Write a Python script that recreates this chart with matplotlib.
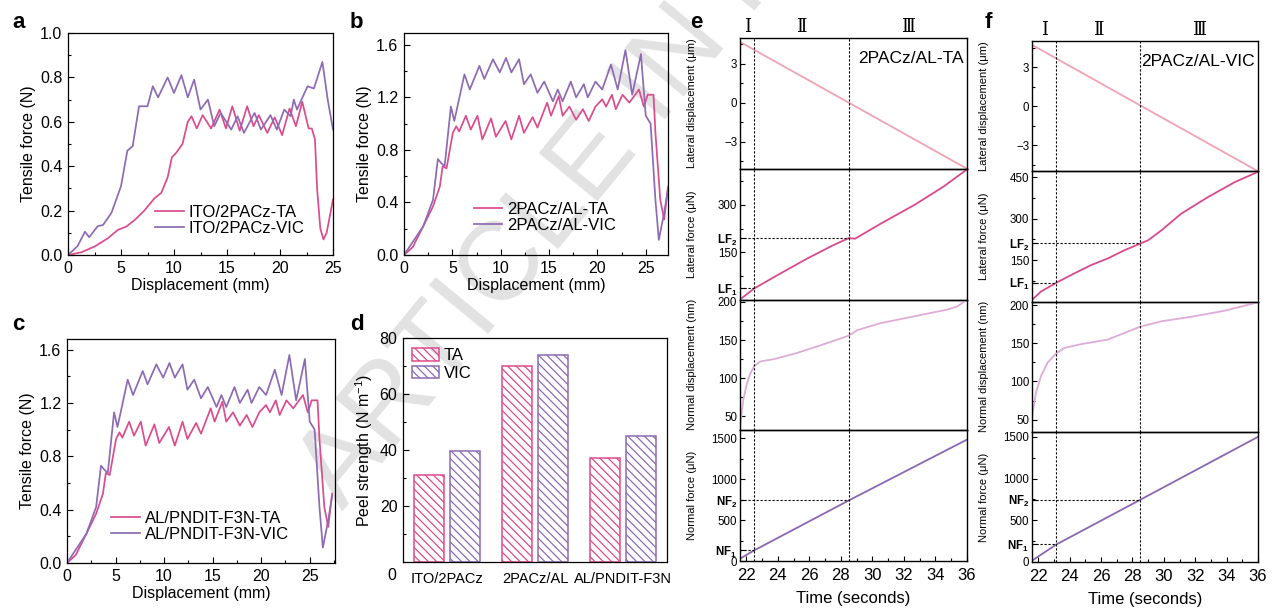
import numpy as np
import matplotlib.pyplot as plt
from matplotlib.ticker import MultipleLocator
from matplotlib.transforms import blended_transform_factory

plt.rcParams['font.family'] = ['Liberation Sans', 'DejaVu Sans']
plt.rcParams['mathtext.fontset'] = 'custom'
plt.rcParams['mathtext.rm'] = 'Liberation Sans'
plt.rcParams['mathtext.it'] = 'Liberation Sans:italic'
plt.rcParams['mathtext.bf'] = 'Liberation Sans:bold'
plt.rcParams['hatch.linewidth'] = 0.9
plt.rcParams['xtick.direction'] = 'in'
plt.rcParams['ytick.direction'] = 'in'
plt.rcParams['axes.linewidth'] = 0.9

TA_COLOR = '#dc4b8c'
VIC_COLOR = '#8c6bb4'

# ---- a: ITO/2PACz peel curves ----
a_ta_x = [0, 1.25, 2.5, 3.75, 4.7, 5.5, 6.3, 7.2, 8.15, 8.8, 9.4, 9.8, 10.2, 10.8, 11.3, 11.65,
          12.15, 12.7, 13.5, 14.3, 14.9, 15.5, 16.2, 16.9, 17.5, 18.0, 18.8, 19.5, 20.2, 20.9,
          21.5, 22.1, 22.7, 23.0, 23.3, 23.5, 23.8, 24.1, 24.4, 25.0]
a_ta_y = [0, 0.012, 0.038, 0.075, 0.113, 0.128, 0.158, 0.20, 0.255, 0.28, 0.35, 0.44, 0.46, 0.50,
          0.60, 0.625, 0.57, 0.63, 0.57, 0.655, 0.57, 0.67, 0.56, 0.67, 0.58, 0.63, 0.55, 0.62,
          0.54, 0.66, 0.58, 0.69, 0.57, 0.57, 0.52, 0.30, 0.12, 0.07, 0.10, 0.25]
a_vic_x = [0, 0.9, 1.6, 2.0, 2.8, 3.3, 4.1, 5.0, 5.6, 6.1, 6.7, 7.5, 8.0, 8.5, 9.4, 10.0, 10.7,
           11.3, 11.9, 12.5, 13.2, 13.8, 14.4, 15.4, 16.0, 16.6, 17.6, 18.2, 19.1, 19.7, 20.4,
           21.0, 21.3, 21.6, 22.6, 23.2, 24.0, 24.5, 25.0]
a_vic_y = [0, 0.04, 0.105, 0.08, 0.13, 0.135, 0.19, 0.31, 0.47, 0.49, 0.67, 0.67, 0.76, 0.71,
           0.80, 0.73, 0.81, 0.71, 0.79, 0.655, 0.70, 0.58, 0.64, 0.565, 0.625, 0.55, 0.64,
           0.565, 0.63, 0.565, 0.655, 0.625, 0.70, 0.655, 0.76, 0.75, 0.87, 0.70, 0.565]

# ---- b / c: 2PACz/AL and AL/PNDIT-F3N peel curves ----
b_ta_x = [0, 0.9, 2.0, 3.0, 3.7, 4.0, 4.4, 5.05, 5.4, 5.7, 6.4, 6.9, 7.6, 8.1, 9.0, 9.5, 10.5,
          11.1, 11.9, 12.4, 13.3, 13.8, 14.8, 15.2, 16.0, 16.4, 17.1, 17.8, 18.5, 19.1, 19.8,
          20.5, 20.9, 21.5, 21.9, 22.6, 23.3, 24.3, 24.8, 25.2, 25.8, 26.0, 26.5, 26.9, 27.3]
b_ta_y = [0, 0.06, 0.22, 0.37, 0.52, 0.675, 0.66, 0.93, 0.98, 0.94, 1.06, 0.955, 1.06, 0.88,
          1.04, 0.90, 1.02, 0.88, 1.06, 0.93, 1.05, 0.97, 1.16, 1.06, 1.21, 1.06, 1.13, 1.03,
          1.11, 1.02, 1.13, 1.185, 1.13, 1.22, 1.11, 1.22, 1.16, 1.26, 1.13, 1.22, 1.22, 0.93,
          0.42, 0.27, 0.52]
b_vic_x = [0, 2.0, 3.0, 3.5, 3.85, 4.2, 4.85, 5.2, 6.25, 6.8, 7.8, 8.3, 9.2, 9.9, 10.55, 11.1,
           11.9, 12.4, 13.1, 13.8, 14.5, 15.4, 15.9, 16.4, 17.25, 17.8, 18.6, 19.0, 19.8, 20.5,
           21.4, 22.1, 22.9, 23.6, 24.5, 25.0, 25.5, 26.0, 26.35, 26.9, 27.3]
b_vic_y = [0, 0.22, 0.42, 0.73, 0.70, 0.675, 1.13, 1.02, 1.375, 1.26, 1.44, 1.34, 1.49, 1.39,
           1.50, 1.39, 1.49, 1.30, 1.375, 1.235, 1.32, 1.17, 1.26, 1.17, 1.32, 1.20, 1.30, 1.20,
           1.32, 1.26, 1.45, 1.26, 1.56, 1.22, 1.53, 1.06, 1.00, 0.42, 0.115, 0.32, 0.50]
c_ta_x, c_ta_y = b_ta_x, b_ta_y
c_vic_x, c_vic_y = b_vic_x, b_vic_y

# ---- d: peel strength ----
d_categories = ['ITO/2PACz', '2PACz/AL', 'AL/PNDIT-F3N']
d_ta = [31, 70, 37]
d_vic = [39.5, 74, 45]

# ---- e: 2PACz/AL-TA scratch ----
e_ld_t = [21.6, 36.0]
e_ld = [4.7, -5.1]
e_lf_t = [21.6, 22.5, 24.0, 25.9, 27.5, 28.5, 28.9, 30.5, 32.66, 34.5, 36.0]
e_lf = [0, 35, 78, 131, 172, 195, 193, 240, 300, 358, 413]
e_nd_t = [21.6, 21.8, 22.04, 22.25, 22.5, 22.9, 23.75, 25.2, 26.7, 28.4, 28.6, 29.05, 30.5,
          32.65, 34.8, 35.4, 36.0]
e_nd = [36, 71, 93, 106, 116, 122, 125, 133, 143, 155, 157, 163, 172, 181, 190, 194, 203]
e_nf_t = [21.6, 22.5, 28.5, 36.0]
e_nf = [28, 130, 740, 1484]
e_t1, e_t2 = 22.5, 28.5
e_lf1, e_lf2 = 35, 195
e_nf1, e_nf2 = 130, 740

# ---- f: 2PACz/AL-VIC scratch ----
f_ld_t = [21.6, 36.0]
f_ld = [4.7, -5.0]
f_lf_t = [21.6, 22.17, 23.15, 24.3, 25.37, 26.43, 27.5, 28.5, 29.0, 29.85, 31.1, 32.8, 34.5, 36.0]
f_lf = [6, 36, 68, 102, 132, 156, 186, 210, 222, 258, 318, 378, 432, 470]
f_nd_t = [21.6, 21.64, 21.85, 22.17, 22.6, 23.15, 23.66, 24.73, 26.43, 28.5, 29.85, 31.77,
          33.9, 36.0]
f_nd = [45.6, 58.7, 85, 107, 125, 137, 144, 149, 155, 172, 179, 185, 193, 204]
f_nf_t = [21.6, 23.15, 28.5, 36.0]
f_nf = [16, 210, 746, 1500]
f_t1, f_t2 = 23.15, 28.5
f_lf1, f_lf2 = 68, 212
f_nf1, f_nf2 = 210, 746

W, H = 1275, 609
fig = plt.figure(figsize=(W / 100, H / 100), dpi=100)


def px_axes(left, top, right, bottom):
    ax = fig.add_axes([left / W, 1 - bottom / H, (right - left) / W, (bottom - top) / H])
    ax.set_facecolor('none')
    return ax


def tensile(ax, xt, yt, xv, yv, labels, xmax, ymax, ystep, anchor):
    ax.plot(xt, yt, color=TA_COLOR, lw=1.25, label=labels[0], solid_joinstyle='round')
    ax.plot(xv, yv, color=VIC_COLOR, lw=1.25, label=labels[1], solid_joinstyle='round')
    ax.set_xlim(0, xmax)
    ax.set_ylim(0, ymax)
    ax.xaxis.set_major_locator(MultipleLocator(5))
    ax.xaxis.set_minor_locator(MultipleLocator(2.5))
    ax.yaxis.set_major_locator(MultipleLocator(ystep))
    ax.yaxis.set_minor_locator(MultipleLocator(ystep / 2))
    ax.tick_params(which='major', length=4, width=0.8, labelsize=11.5, pad=4)
    ax.tick_params(which='minor', length=2.2, width=0.8)
    ax.set_xlabel('Displacement (mm)', fontsize=11.5, labelpad=2)
    ax.set_ylabel('Tensile force (N)', fontsize=11.5, labelpad=3)
    ax.legend(loc='lower left', bbox_to_anchor=anchor, frameon=False, fontsize=12,
              handlelength=1.7, handletextpad=0.3, labelspacing=0.05, borderpad=0,
              borderaxespad=0)


ax_a = px_axes(68, 33, 333, 255)
tensile(ax_a, a_ta_x, a_ta_y, a_vic_x, a_vic_y, ['ITO/2PACz-TA', 'ITO/2PACz-VIC'],
        25, 1.0, 0.2, (0.33, 0.085))
ax_b = px_axes(404, 33, 668, 255)
tensile(ax_b, b_ta_x, b_ta_y, b_vic_x, b_vic_y, ['2PACz/AL-TA', '2PACz/AL-VIC'],
        27.3, 1.69, 0.4, (0.265, 0.1))
ax_c = px_axes(67, 339, 335, 563)
tensile(ax_c, c_ta_x, c_ta_y, c_vic_x, c_vic_y, ['AL/PNDIT-F3N-TA', 'AL/PNDIT-F3N-VIC'],
        27.6, 1.68, 0.4, (0.165, 0.095))

# ---- d ----
ax_d = px_axes(403, 338, 667, 562)
xpos = np.arange(len(d_categories))
ax_d.bar(xpos - 0.2, d_ta, 0.34, facecolor='none', edgecolor=TA_COLOR, hatch='\\\\\\\\',
         lw=1.1, label='TA')
ax_d.bar(xpos + 0.2, d_vic, 0.34, facecolor='none', edgecolor=VIC_COLOR, hatch='\\\\\\\\',
         lw=1.1, label='VIC')
ax_d.set_xlim(-0.5, 2.5)
ax_d.set_ylim(0, 80)
ax_d.set_xticks(xpos, d_categories)
ax_d.set_yticks([20, 40, 60, 80])
ax_d.yaxis.set_minor_locator(MultipleLocator(10))
ax_d.tick_params(axis='x', length=0, labelsize=10.5, pad=7)
ax_d.tick_params(axis='y', which='major', length=4, width=0.8, labelsize=11.5, pad=4)
ax_d.tick_params(axis='y', which='minor', length=2.2, width=0.8)
ax_d.text(-0.042, -0.0625, '0', transform=ax_d.transAxes, ha='center', va='center',
          fontsize=11.5)
ax_d.set_ylabel('Peel strength (N m$^{-1}$)', fontsize=11.5, labelpad=3)
ax_d.legend(loc='upper left', bbox_to_anchor=(0.035, 0.955), frameon=False, fontsize=12,
            handlelength=1.6, handleheight=0.8, handletextpad=0.3, labelspacing=0.15,
            borderpad=0, borderaxespad=0)


# ---- e / f ----
def scratch(left, top, right, bottom, d, title):
    h = (bottom - top) / 4
    axs = [px_axes(left, top + i * h, right, top + (i + 1) * h) for i in range(4)]
    x0, x1 = 21.6, 36.0
    a1, a2, a3, a4 = axs
    a1.plot(d['ld_t'], d['ld'], color='#f0a3b4', lw=1.3)
    a2.plot(d['lf_t'], d['lf'], color='#d94a8c', lw=1.3)
    a3.plot(d['nd_t'], d['nd'], color='#ddacd9', lw=1.3)
    a4.plot(d['nf_t'], d['nf'], color='#8a67b1', lw=1.3)
    dot = dict(color='k', lw=0.8, ls=(0, (2, 1.6)))
    for ax in axs:
        ax.set_xlim(x0, x1)
        ax.axvline(d['t1'], **dot)
        ax.axvline(d['t2'], **dot)
        ax.spines[:].set_linewidth(1.0)
        ax.tick_params(axis='y', which='major', length=3.5, width=0.8, labelsize=8.3, pad=2)
        ax.tick_params(axis='y', which='minor', length=2, width=0.8)
        ax.yaxis.set_label_coords(-0.19, 0.5)
    for ax in axs[:3]:
        ax.tick_params(axis='x', which='both', length=0, labelbottom=False)
    a2.plot([x0, d['t1']], [d['lf1'], d['lf1']], **dot)
    a2.plot([x0, d['t2']], [d['lf2'], d['lf2']], **dot)
    a4.plot([x0, d['t1']], [d['nf1'], d['nf1']], **dot)
    a4.plot([x0, d['t2']], [d['nf2'], d['nf2']], **dot)

    a1.set_ylim(*d['ld_lim'])
    a1.set_yticks([-3, 0, 3])
    a1.yaxis.set_minor_locator(MultipleLocator(1.5))
    a1.set_ylabel('Lateral displacement (\u03bcm)', fontsize=8)

    a2.set_ylim(*d['lf_lim'])
    lf_ticks = [d['lf1'], 150, d['lf2'], 300] + d['lf_extra']
    lf_labels = ['$\\mathbf{LF_1}$', '150', '$\\mathbf{LF_2}$', '300'] + \
        [str(v) for v in d['lf_extra']]
    a2.set_yticks(lf_ticks, lf_labels)
    a2.yaxis.set_minor_locator(MultipleLocator(75))
    a2.set_ylabel('Lateral force (\u03bcN)', fontsize=8)

    a3.set_ylim(*d['nd_lim'])
    a3.set_yticks([50, 100, 150, 200])
    a3.yaxis.set_minor_locator(MultipleLocator(25))
    a3.set_ylabel('Normal displacement (nm)', fontsize=8)

    a4.set_ylim(*d['nf_lim'])
    a4.set_yticks([0, d['nf1'], 500, d['nf2'], 1000, 1500],
                  ['0', '$\\mathbf{NF_1}$', '500', '$\\mathbf{NF_2}$', '1000', '1500'])
    a4.yaxis.set_minor_locator(MultipleLocator(250))
    a4.set_ylabel('Normal force (\u03bcN)', fontsize=8)
    a4.xaxis.set_major_locator(MultipleLocator(2))
    a4.xaxis.set_minor_locator(MultipleLocator(1))
    a4.tick_params(axis='x', which='major', length=3.5, width=0.8, labelsize=12, pad=5)
    a4.tick_params(axis='x', which='minor', length=2, width=0.8)
    a4.set_xlabel('Time (seconds)', fontsize=12, labelpad=6)

    a1.text(0.985, 0.9, title, transform=a1.transAxes, ha='right', va='top', fontsize=12.5)
    tr = blended_transform_factory(a1.transData, a1.transAxes)
    mids = [(x0 + d['t1']) / 2, (d['t1'] + d['t2']) / 2, (d['t2'] + x1) / 2]
    for xm, lab in zip(mids, ['\u2160', '\u2161', '\u2162']):
        a1.text(xm, 1.015, lab, transform=tr, ha='center', va='bottom', fontsize=13,
                family=['DejaVu Serif', 'DejaVu Sans'])
    return axs


e_data = dict(ld_t=e_ld_t, ld=e_ld, lf_t=e_lf_t, lf=e_lf, nd_t=e_nd_t, nd=e_nd,
              nf_t=e_nf_t, nf=e_nf, t1=e_t1, t2=e_t2, lf1=e_lf1, lf2=e_lf2,
              nf1=e_nf1, nf2=e_nf2, ld_lim=(-5.1, 5.0), lf_lim=(0, 415), lf_extra=[],
              nd_lim=(32, 203), nf_lim=(0, 1598))
f_data = dict(ld_t=f_ld_t, ld=f_ld, lf_t=f_lf_t, lf=f_lf, nd_t=f_nd_t, nd=f_nd,
              nf_t=f_nf_t, nf=f_nf, t1=f_t1, t2=f_t2, lf1=f_lf1, lf2=f_lf2,
              nf1=f_nf1, nf2=f_nf2, ld_lim=(-5.0, 5.0), lf_lim=(0, 472), lf_extra=[450],
              nd_lim=(34, 205), nf_lim=(0, 1561))
scratch(740, 38, 967, 561, e_data, '2PACz/AL-TA')
scratch(1032, 41, 1258, 562, f_data, '2PACz/AL-VIC')

# panel letters
for lab, x, y in [('a', 12, 28), ('b', 350, 28), ('c', 12, 330), ('d', 350, 330),
                  ('e', 690, 28), ('f', 985, 28)]:
    fig.text(x / W, 1 - y / H, lab, fontsize=16, fontweight='bold', ha='left',
             va='baseline')

# watermark
fig.text(342 / W, 1 - 511 / H, 'ARTICLE IN PRESS', fontsize=80, color='#e2e2e2',
         rotation=50.5, rotation_mode='anchor', ha='left', va='baseline', zorder=-1)

fig.savefig('out.png', dpi=100, facecolor='white')
